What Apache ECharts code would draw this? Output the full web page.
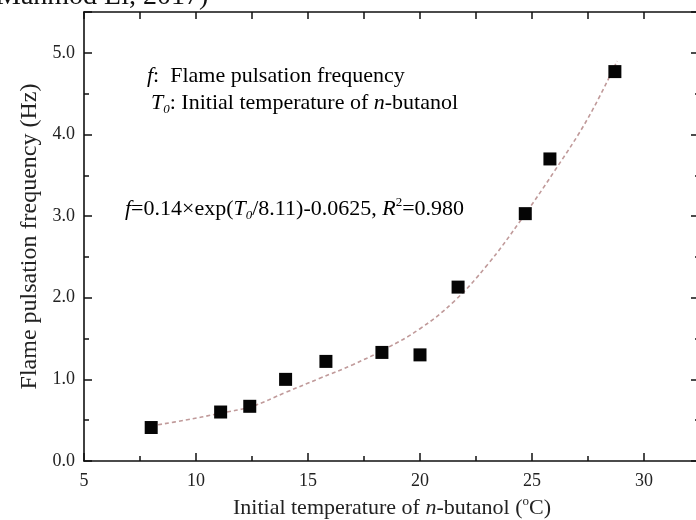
<!DOCTYPE html>
<html>
<head>
<meta charset="utf-8">
<script src="https://cdn.jsdelivr.net/npm/echarts/dist/echarts.min.js"></script>
<style>
  html, body { margin: 0; padding: 0; background: #fff; overflow: hidden; }
  #chart { width: 696px; height: 520px; }
</style>
</head>
<body>
<div id="chart"></div>
<script>
// measured points (initial temperature, pulsation frequency)
const tempC = [8.0, 11.1, 12.4, 14.0, 15.8, 18.3, 20.0, 21.7, 24.7, 25.8, 28.7];
const freqHz = [0.41, 0.60, 0.67, 1.00, 1.22, 1.33, 1.30, 2.13, 3.03, 3.70, 4.77];

// dashed fit curve
const fitT = [8.0, 9.5, 11.0, 12.5, 14.0, 15.5, 17.0, 18.5, 20.0, 21.5, 23.0, 24.5, 26.0, 27.5, 28.8];
const fitF = [0.43, 0.50, 0.58, 0.67, 0.84, 1.01, 1.18, 1.38, 1.62, 1.95, 2.40, 2.95, 3.55, 4.20, 4.90];

const serif = 'Liberation Serif';
const axisColor = '#111';

const richText = {
  r: { fontFamily: serif, fontSize: 22, color: '#222', lineHeight: 26 },
  i: { fontFamily: serif, fontSize: 22, color: '#222', lineHeight: 26, fontStyle: 'italic' },
  sub: { fontFamily: serif, fontSize: 13, color: '#222', lineHeight: 14, fontStyle: 'italic', verticalAlign: 'bottom' },
  sup: { fontFamily: serif, fontSize: 13, color: '#222', lineHeight: 14, verticalAlign: 'top' }
};

const chart = echarts.init(document.getElementById('chart'), null, { renderer: 'canvas' });

const baseAxis = {
  min: 5,
  max: 32.5,
  axisLine: { onZero: false, lineStyle: { color: axisColor, width: 1.6 } },
  splitLine: { show: false }
};

chart.setOption({
  animation: false,
  backgroundColor: '#fff',
  grid: { left: 84, top: 12, width: 616, height: 449, containLabel: false, outerBoundsMode: 'none' },
  xAxis: [
    Object.assign({}, baseAxis, {
      type: 'value',
      position: 'bottom',
      interval: 5,
      axisTick: { inside: true, length: 8, lineStyle: { color: axisColor, width: 1.5 } },
      minorTick: { show: true, splitNumber: 2, length: 5, lineStyle: { color: axisColor, width: 1.5 } },
      minorSplitLine: { show: false },
      axisLabel: { margin: 11, fontFamily: serif, fontSize: 18, color: '#222', showMaxLabel: false },
      name: '{r|Initial temperature of }{i|n}{r|-butanol (}{sup|o}{r|C)}',
      nameLocation: 'middle',
      nameGap: 23,
      nameTextStyle: { rich: richText, fontFamily: serif, fontSize: 22 }
    }),
    Object.assign({}, baseAxis, {
      type: 'value',
      position: 'top',
      interval: 2.5,
      axisTick: { inside: true, length: 7, lineStyle: { color: axisColor, width: 1.5 } },
      axisLabel: { show: false }
    })
  ],
  yAxis: [
    {
      type: 'value',
      position: 'left',
      min: 0,
      max: 5.5,
      interval: 1,
      axisLine: { onZero: false, lineStyle: { color: axisColor, width: 1.6 } },
      splitLine: { show: false },
      axisTick: { inside: true, length: 8, lineStyle: { color: axisColor, width: 1.5 } },
      minorTick: { show: true, splitNumber: 2, length: 5, lineStyle: { color: axisColor, width: 1.5 } },
      axisLabel: {
        margin: 9, fontFamily: serif, fontSize: 18, color: '#222', showMaxLabel: false,
        formatter: function (v) { return v.toFixed(1); }
      },
      name: 'Flame pulsation frequency (Hz)',
      nameLocation: 'middle',
      nameGap: 40,
      nameTextStyle: { fontFamily: serif, fontSize: 24, color: '#222' }
    },
    {
      type: 'value',
      position: 'right',
      min: 0,
      max: 5.5,
      interval: 1,
      axisLine: { onZero: false, lineStyle: { color: axisColor, width: 1.6 } },
      splitLine: { show: false },
      axisTick: { inside: true, length: 9, lineStyle: { color: axisColor, width: 1.5 } },
      minorTick: { show: true, splitNumber: 2, length: 5, lineStyle: { color: axisColor, width: 1.5 } },
      axisLabel: { show: false }
    }
  ],
  series: [
    {
      name: 'fit',
      type: 'line',
      xAxisIndex: 0,
      yAxisIndex: 0,
      data: fitT.map((t, k) => [t, fitF[k]]),
      smooth: 0.4,
      showSymbol: false,
      symbol: 'none',
      silent: true,
      lineStyle: { color: '#c09a9a', width: 1.6, type: [4, 3] },
      z: 2
    },
    {
      name: 'measured',
      type: 'scatter',
      xAxisIndex: 0,
      yAxisIndex: 0,
      data: tempC.map((t, k) => [t, freqHz[k]]),
      symbol: 'rect',
      symbolSize: 13,
      itemStyle: { color: '#050505', opacity: 1 },
      z: 3
    }
  ],
  graphic: [
    {
      type: 'text',
      style: {
        text: 'Mahmod Li, 2017)',
        x: -4, y: -3,
        verticalAlign: 'middle',
        fontFamily: serif, fontSize: 28, fill: '#111'
      }
    },
    {
      type: 'text',
      style: {
        text: '{i|f}{r|:  Flame pulsation frequency}',
        x: 147, y: 76,
        verticalAlign: 'middle',
        rich: richText
      }
    },
    {
      type: 'text',
      style: {
        text: '{i|T}{sub|0}{r|: Initial temperature of }{i|n}{r|-butanol}',
        x: 151, y: 103,
        verticalAlign: 'middle',
        rich: richText
      }
    },
    {
      type: 'text',
      style: {
        text: '{i|f}{r|=0.14×exp(}{i|T}{sub|0}{r|/8.11)-0.0625, }{i|R}{sup|2}{r|=0.980}',
        x: 125, y: 209,
        verticalAlign: 'middle',
        rich: richText
      }
    }
  ]
});
</script>
</body>
</html>
